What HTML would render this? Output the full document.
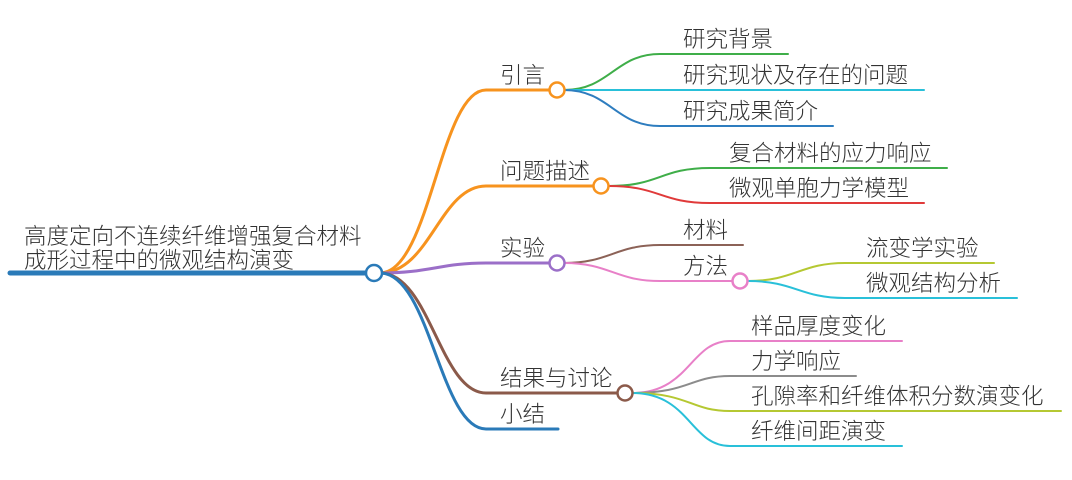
<!DOCTYPE html>
<html><head><meta charset="utf-8"><style>
html,body{margin:0;padding:0;background:#fff;width:1072px;height:480px;overflow:hidden}
text{font-family:"Liberation Sans","Noto Sans CJK SC",sans-serif;font-size:22.5px;fill:#333;font-weight:300}
</style></head><body>
<svg width="1072" height="480" viewBox="0 0 1072 480" xmlns="http://www.w3.org/2000/svg">
<g fill="none" stroke-linecap="round">
<path d="M380 273 C430 273 440 90 486 90 L550 90" stroke="#f7931e" stroke-width="3"/>
<path d="M380 273 C430 273 440 186 486 186 L594 186" stroke="#f7931e" stroke-width="3"/>
<path d="M380 273 C430 273 440 263 486 263 L550 263" stroke="#9b6fc8" stroke-width="3"/>
<path d="M380 273 C430 273 440 393 486 393 L617 393" stroke="#8b5a4a" stroke-width="3"/>
<path d="M380 273 C430 273 440 429 486 429 L558 429" stroke="#2a7ab8" stroke-width="3"/>
<path d="M10 273 L368 273" stroke="#2a7ab8" stroke-width="5"/>
<path d="M564 90 C610 90 615 54 660 54 L788 54" stroke="#3fae49" stroke-width="2"/>
<path d="M564 90 L924 90" stroke="#29c0d9" stroke-width="2"/>
<path d="M564 90 C610 90 615 126 660 126 L833 126" stroke="#2e7dbf" stroke-width="2"/>
<path d="M609 186 C660 186 660 168 710 168 L947 168" stroke="#3fae49" stroke-width="2"/>
<path d="M609 186 C660 186 660 203 710 203 L924 203" stroke="#e03a3a" stroke-width="2"/>
<path d="M564 263 C610 263 615 245 660 245 L743 245" stroke="#8c6257" stroke-width="2"/>
<path d="M564 263 C610 263 615 281 660 281 L732 281" stroke="#e880c8" stroke-width="2"/>
<path d="M748 281 C795 281 800 263 845 263 L994 263" stroke="#b5c832" stroke-width="2"/>
<path d="M748 281 C795 281 800 298 845 298 L1017 298" stroke="#29c0d9" stroke-width="2"/>
<path d="M632 393 C690 393 690 341 730 341 L902 341" stroke="#e880c8" stroke-width="2"/>
<path d="M632 393 C690 393 690 376 730 376 L856 376" stroke="#8c8c8c" stroke-width="2"/>
<path d="M632 393 C690 393 690 411 730 411 L1061 411" stroke="#b5c832" stroke-width="2"/>
<path d="M632 393 C690 393 690 446 730 446 L902 446" stroke="#29c0d9" stroke-width="2"/>
</g>
<g fill="#fff" stroke-width="2.5">
<circle cx="374" cy="273" r="8" stroke="#2a7ab8"/>
<circle cx="557" cy="90" r="7.5" stroke="#f7931e"/>
<circle cx="601" cy="186" r="7.5" stroke="#f7931e"/>
<circle cx="557" cy="263" r="7.5" stroke="#9b6fc8"/>
<circle cx="625" cy="393" r="7.5" stroke="#8b5a4a"/>
<circle cx="740" cy="281" r="7.5" stroke="#e880c8"/>
</g>
<text x="24" y="244" style="font-size:22.5px">高度定向不连续纤维增强复合材料</text>
<text x="24" y="268" style="font-size:22.5px">成形过程中的微观结构演变</text>
<text x="500" y="83">引言</text>
<text x="500" y="179">问题描述</text>
<text x="500" y="256">实验</text>
<text x="500" y="386">结果与讨论</text>
<text x="500" y="422">小结</text>
<text x="683" y="47">研究背景</text>
<text x="683" y="83">研究现状及存在的问题</text>
<text x="683" y="119">研究成果简介</text>
<text x="729" y="161">复合材料的应力响应</text>
<text x="729" y="196">微观单胞力学模型</text>
<text x="683" y="238">材料</text>
<text x="683" y="274">方法</text>
<text x="866" y="256">流变学实验</text>
<text x="866" y="291">微观结构分析</text>
<text x="751" y="334">样品厚度变化</text>
<text x="751" y="369">力学响应</text>
<text x="751" y="404">孔隙率和纤维体积分数演变化</text>
<text x="751" y="439">纤维间距演变</text>
</svg>
</body></html>
